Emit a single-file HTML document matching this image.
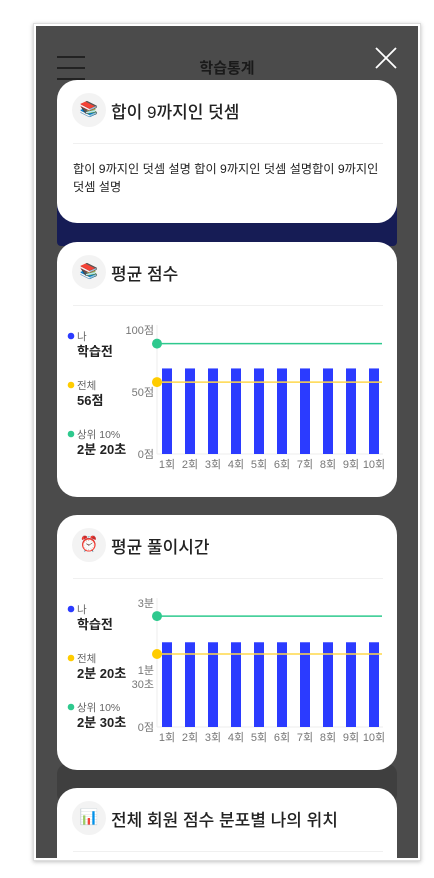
<!DOCTYPE html>
<html><head><meta charset="utf-8">
<style>
*{box-sizing:border-box;margin:0;padding:0}
body{width:434px;height:878px;background:#fff;position:relative;overflow:hidden;font-family:"Liberation Sans","Noto Sans CJK KR",sans-serif;color:#222}
.frame{position:absolute;left:33px;top:23px;width:388px;height:838px;border:1px solid #ddd;box-shadow:0 1px 4px rgba(0,0,0,.25);background:#fff}
.bg{position:absolute;left:36px;top:26px;width:382px;height:832px;background:#4b4b4b;overflow:hidden}
.card{position:absolute;left:21px;width:340px;background:#fff;border-radius:20px}
.icon{position:absolute;left:15px;width:34px;height:34px;border-radius:50%;background:#f3f3f3;text-align:center;line-height:34px;font-size:15px}
.title{position:absolute;left:54px;font-size:17px;font-weight:500;color:#222;white-space:nowrap}
.div{position:absolute;left:16px;right:14px;height:1px;background:#f0f0f0}
</style></head><body>
<div class="frame"></div>
<div class="bg">
 <div style="position:absolute;left:21px;top:29px;width:28px;height:24px">
  <div style="height:2px;background:#222;margin-top:1px"></div><div style="height:2px;background:#222;margin-top:9px"></div><div style="height:2px;background:#222;margin-top:9px"></div></div>
 <div style="position:absolute;left:0;width:382px;top:31px;text-align:center;font-size:15px;font-weight:700;color:#1a1a1a">학습통계</div>
 <svg style="position:absolute;left:339px;top:21px" width="22" height="22"><path d="M1 1L21 21M21 1L1 21" stroke="#fff" stroke-width="1.8"/></svg>
 <div style="position:absolute;left:21px;top:180px;width:340px;height:40px;background:#161c55;border-radius:0 0 4px 4px"></div>
 <div style="position:absolute;left:21px;top:738px;width:340px;height:40px;background:#3f3f3f;border-radius:10px"></div>

 <div class="card" style="top:54px;height:143px">
  <div class="icon" style="top:13px">📚</div>
  <div class="title" style="top:18px">합이 9까지인 덧셈</div>
  <div class="div" style="top:63px"></div>
  <div style="position:absolute;left:16px;top:80px;width:315px;font-size:12.2px;line-height:18px;color:#222">합이 9까지인 덧셈 설명 합이 9까지인 덧셈 설명합이 9까지인 덧셈 설명</div>
 </div>

 <div class="card" style="top:216px;height:255px">
  <div class="icon" style="top:13px">📚</div>
  <div class="title" style="top:18px">평균 점수</div>
  <div class="div" style="top:63px"></div>
  <svg id="c1" width="340" height="255" style="position:absolute;left:0;top:0"></svg>
 </div>

 <div class="card" style="top:489px;height:255px">
  <div class="icon" style="top:13px">⏰</div>
  <div class="title" style="top:18px">평균 풀이시간</div>
  <div class="div" style="top:63px"></div>
  <svg id="c2" width="340" height="255" style="position:absolute;left:0;top:0"></svg>
 </div>

 <div class="card" style="top:762px;height:120px">
  <div class="icon" style="top:13px">📊</div>
  <div class="title" style="top:18px">전체 회원 점수 분포별 나의 위치</div>
  <div class="div" style="top:63px"></div>
 </div>
</div>
<script>
const categories=["1회","2회","3회","4회","5회","6회","7회","8회","9회","10회"];
const scoreBars=[69,69,69,69,69,69,69,69,69,69];
const scoreAvg=58, scoreTop=89, scoreMax=100;
const scoreTicks=[{v:100,t:["100점"]},{v:50,t:["50점"]},{v:0,t:["0점"]}];
const scoreLegend=[["#2b3bff","나","학습전"],["#ffcc00","전체","56점"],["#2ec98e","상위 10%","2분 20초"]];
const timeBars=[123,123,123,123,123,123,123,123,123,123];
const timeAvg=106, timeTop=161, timeMax=180;
const timeTicks=[{v:180,t:["3분"]},{v:90,t:["1분","30초"]},{v:0,t:["0점"]}];
const timeLegend=[["#2b3bff","나","학습전"],["#ffcc00","전체","2분 20초"],["#2ec98e","상위 10%","2분 30초"]];
const NS="http://www.w3.org/2000/svg";
function mk(svg,tag,a,txt){const e=document.createElementNS(NS,tag);for(const k in a)e.setAttribute(k,a[k]);if(txt)e.textContent=txt;svg.appendChild(e);return e;}
function draw(id,bars,avg,top,max,ticks,legend,y0,yTopPx){
 const svg=document.getElementById(id);
 const y=v=>y0-(v/max)*(y0-yTopPx);
 const x=i=>110+i*23;
 const ax=mk(svg,"line",{x1:100,x2:100,y1:y(max)-5,y2:y0,stroke:"#eee"});
 
 mk(svg,"line",{x1:100,x2:326,y1:y0,y2:y0,stroke:"#eee"});
 ticks.forEach(t=>{const off=t.t.length>1?12:0;t.t.forEach((s,j)=>{const e=mk(svg,"text",{x:97,y:y(t.v)+4+off+(j-(t.t.length-1)/2)*14,"text-anchor":"end","font-size":"11",fill:"#777"},s);
  });});
 bars.forEach((v,i)=>{const r=mk(svg,"rect",{x:x(i)-5,y:y(v),width:10,height:y0-y(v),fill:"#2b3bff"});
  
  const t=mk(svg,"text",{x:x(i),y:y0+14,"text-anchor":"middle","font-size":"11",fill:"#777"},categories[i]);
  });
 [[top,"#2ec98e","top10-line"],[avg,"#ffd84a","average-line"]].forEach(([v,c,n])=>{
  const l=mk(svg,"line",{x1:100,x2:325,y1:y(v),y2:y(v),stroke:c,"stroke-width":1.5});
  
  const d=mk(svg,"circle",{cx:100,cy:y(v),r:5,fill:c==="#ffd84a"?"#ffcc00":c});
  });
 legend.forEach((L,i)=>{const by=94+i*49;
  mk(svg,"circle",{cx:14,cy:by,r:3.3,fill:L[0]});
  const a=mk(svg,"text",{x:20,y:by+4,"font-size":"10.5",fill:"#666"},L[1]);
  
  const b=mk(svg,"text",{x:20,y:by+20,"font-size":"13","font-weight":"700",fill:"#222"},L[2]);
  });
}
draw("c1",scoreBars,scoreAvg,scoreTop,scoreMax,scoreTicks,scoreLegend,212,88);
draw("c2",timeBars,timeAvg,timeTop,timeMax,timeTicks,timeLegend,212,88);
</script>
</body></html>
